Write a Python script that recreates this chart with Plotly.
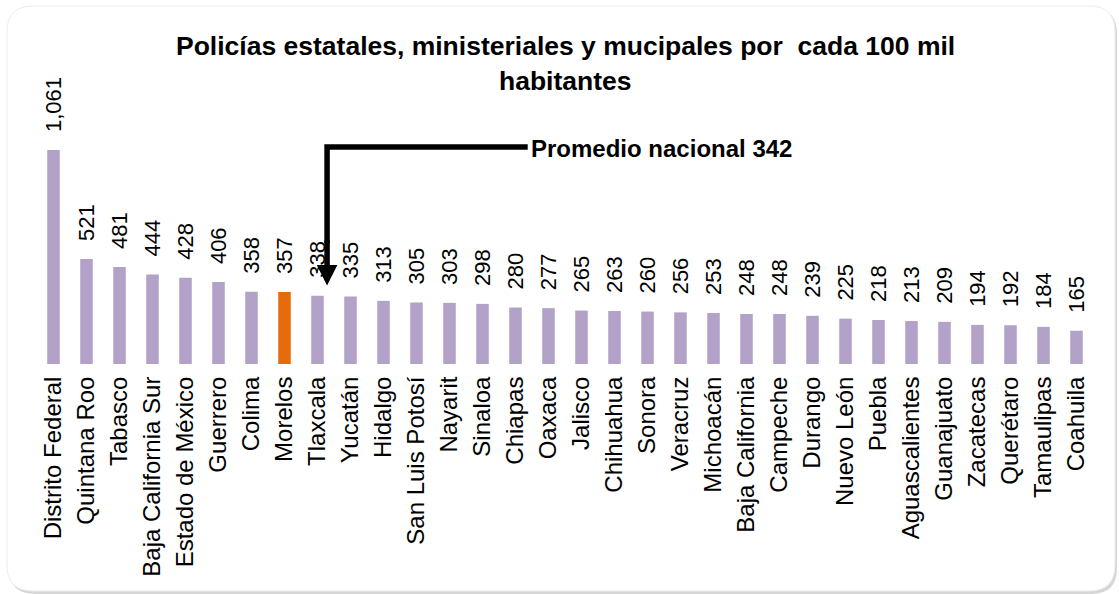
import plotly.graph_objects as go

# ---- data ----
estados = ["Distrito Federal", "Quintana Roo", "Tabasco", "Baja California Sur", "Estado de México",
           "Guerrero", "Colima", "Morelos", "Tlaxcala", "Yucatán", "Hidalgo", "San Luis Potosí",
           "Nayarit", "Sinaloa", "Chiapas", "Oaxaca", "Jalisco", "Chihuahua", "Sonora", "Veracruz",
           "Michoacán", "Baja California", "Campeche", "Durango", "Nuevo León", "Puebla",
           "Aguascalientes", "Guanajuato", "Zacatecas", "Querétaro", "Tamaulipas", "Coahuila"]
policias = [1061, 521, 481, 444, 428, 406, 358, 357, 338, 335, 313, 305, 303, 298, 280, 277,
            265, 263, 260, 256, 253, 248, 248, 239, 225, 218, 213, 209, 194, 192, 184, 165]
destacado = "Morelos"
promedio_nacional = 342

titulo_1 = "Policías estatales, ministeriales y mucipales por\u00a0 cada 100 mil"
titulo_2 = "habitantes"
texto_promedio = f"Promedio nacional {promedio_nacional}"

# ---- styling ----
W, H = 1119, 594
ML, MR, MT, MB = 37, 26, 20, 230
PW, PH = W - ML - MR, H - MT - MB
PX_PER_UNIT = 0.2017
YMAX = PH / PX_PER_UNIT
FONT = "Liberation Sans, Arial, sans-serif"
LILA = "#b3a2c7"
NARANJA = "#e46c0a"


def paper(px, py):
    return (px - ML) / PW, (H - MB - py) / PH


def rrect(x0, y0, x1, y1, r):
    pts = [("M", [(x0 + r, y0)]), ("L", [(x1 - r, y0)]), ("Q", [(x1, y0), (x1, y0 + r)]),
           ("L", [(x1, y1 - r)]), ("Q", [(x1, y1), (x1 - r, y1)]), ("L", [(x0 + r, y1)]),
           ("Q", [(x0, y1), (x0, y1 - r)]), ("L", [(x0, y0 + r)]), ("Q", [(x0, y0), (x0 + r, y0)])]
    s = ""
    for cmd, ps in pts:
        s += cmd + " " + " ".join("%.5f,%.5f" % paper(a, b) for a, b in ps) + " "
    return s + "Z"


colores = [NARANJA if e == destacado else LILA for e in estados]

fig = go.Figure()
fig.add_trace(go.Bar(x=estados, y=policias, marker=dict(color=colores, line=dict(width=0)),
                     width=0.38, hoverinfo="skip"))

annotations = []
for e, v in zip(estados, policias):
    annotations.append(dict(x=e, y=v, xref="x", yref="y", text=f"{v:,}", textangle=-90,
                            showarrow=False, yanchor="bottom", xanchor="center", yshift=16,
                            font=dict(family=FONT, size=22, color="#000")))

tx, ty = paper(565, 46)
annotations.append(dict(x=tx, y=ty, xref="paper", yref="paper", text="<b>" + titulo_1 + "</b>",
                        showarrow=False, xanchor="center", yanchor="middle",
                        font=dict(family=FONT, size=26.5, color="#000")))
tx, ty = paper(565, 81)
annotations.append(dict(x=tx, y=ty, xref="paper", yref="paper", text="<b>" + titulo_2 + "</b>",
                        showarrow=False, xanchor="center", yanchor="middle",
                        font=dict(family=FONT, size=26.5, color="#000")))

# promedio nacional callout (elbow arrow)
ARR_X = 8.29          # category-index position of vertical stem
ARR_TOP = 1076        # value level of horizontal line
ARR_TIP = 389
TXT_X = 14.37
annotations.append(dict(x=TXT_X + 0.05, y=1068, xref="x", yref="y", text="<b>" + texto_promedio + "</b>",
                        showarrow=False, xanchor="left", yanchor="middle",
                        font=dict(family=FONT, size=24, color="#000")))
annotations.append(dict(x=ARR_X, y=ARR_TIP, xref="x", yref="y", ax=ARR_X, ay=620, axref="x", ayref="y",
                        text="", showarrow=True, arrowhead=2, arrowsize=0.75, arrowwidth=5.5,
                        arrowcolor="#000", standoff=0))

shapes = [
    dict(type="path", xref="paper", yref="paper", path=rrect(9, 8, 1117, 594, 26),
         fillcolor="#d6d6d6", line=dict(width=0), layer="below"),
    dict(type="path", xref="paper", yref="paper", path=rrect(7, 6, 1115, 591, 26),
         fillcolor="#ffffff", line=dict(color="#ededed", width=1), layer="below"),
    dict(type="path", xref="x", yref="y",
         path=f"M {TXT_X},{ARR_TOP} H {ARR_X} V 600",
         line=dict(color="#000", width=5.5), layer="above"),
]

fig.update_layout(
    width=W, height=H,
    margin=dict(l=ML, r=MR, t=MT, b=MB),
    paper_bgcolor="#ffffff", plot_bgcolor="rgba(0,0,0,0)",
    showlegend=False,
    hovermode=False,
    annotations=annotations,
    shapes=shapes,
    bargap=0.62,
    xaxis=dict(type="category", tickangle=-90, showgrid=False, zeroline=False, showline=False,
               ticks="outside", ticklen=2, tickcolor="rgba(0,0,0,0)", automargin=False,
               tickfont=dict(family=FONT, size=24, color="#000"), fixedrange=True),
    yaxis=dict(range=[0, YMAX], visible=False, fixedrange=True, automargin=False),
)

fig.write_html("out.html", config={"displayModeBar": False},
               post_script="document.body.style.margin='0px';")
